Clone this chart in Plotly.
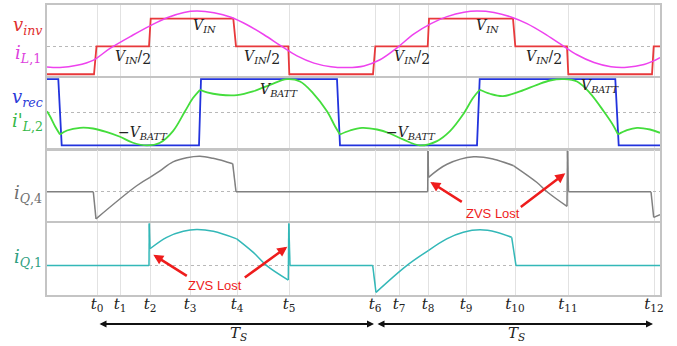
import plotly.graph_objects as go

# ---------------- data (time in arbitrary units, t0 = 0, Ts ~ 278) ----------------
t_names = ["0", "1", "2", "3", "4", "5", "6", "7", "8", "9", "10", "11", "12"]
t_vals = [0, 23, 53, 93, 140, 192, 278, 302, 331, 369, 418, 471, 557]

# panel 1: inverter voltage (units of V_IN/2) and L1 current
vinv_t = [-50, -3, -0.5, 52, 53.7, 136.3, 139, 191.3, 192.3, 276, 278.3, 330.7, 332, 416, 418.3, 470, 471.3, 555, 556.7, 563]
vinv_v = [0, 0, 1, 1, 2, 2, 1, 1, 0, 0, 1, 1, 2, 2, 1, 1, 0, 0, 1, 1]

iL1_t = [-50, -37, -20, -4, 13, 36, 53, 70, 87, 100, 117, 134, 150, 167, 184, 200, 217, 234, 250, 267,
         283, 300, 317, 334, 350, 367, 380, 397, 414, 430, 447, 464, 480, 497, 514, 530, 547, 556, 563]
iL1_v = [0.26, 0.24, 0.32, 0.5, 0.93, 1.41, 1.74, 2.03, 2.22, 2.27, 2.21, 2.05, 1.78, 1.42, 1.02, 0.66, 0.40, 0.27, 0.24, 0.30,
         0.52, 0.95, 1.45, 1.82, 2.07, 2.23, 2.27, 2.22, 2.06, 1.82, 1.47, 1.07, 0.70, 0.42, 0.27, 0.25, 0.35, 0.47, 0.6]

# panel 2: rectifier voltage (units of V_BATT) and L2 current
vrec_t = [-50, -38.7, -35.3, 102, 104, 240, 243, 380, 382.7, 518.3, 521.7, 563]
vrec_v = [1, 1, -1, -1, 1, 1, -1, -1, 1, 1, -1, -1]

iL2_t = [-50, -47, -42, -37, -30, -17, -4, 10, 23, 36, 50, 63, 76, 88, 96, 103, 110, 123, 140, 156,
         173, 190, 203, 216, 230, 238, 243, 253, 265, 280, 293, 306, 323, 340, 353, 366, 376, 382.7, 393, 406,
         423, 440, 453, 467, 480, 493, 506.7, 516.7, 521, 530, 540, 553, 563]
iL2_v = [0.03, -0.12, -0.42, -0.67, -0.55, -0.47, -0.49, -0.6, -0.74, -0.92, -1.0, -0.92, -0.57, 0.03, 0.43, 0.68, 0.6, 0.53, 0.52, 0.63,
         0.83, 1.0, 0.93, 0.58, 0.03, -0.42, -0.67, -0.55, -0.47, -0.52, -0.64, -0.82, -1.0, -0.87, -0.57, -0.07, 0.43, 0.68, 0.56, 0.49,
         0.63, 0.83, 0.96, 1.0, 0.93, 0.58, 0.03, -0.42, -0.67, -0.54, -0.47, -0.52, -0.62]
iL2_corners = [-37, 103, 243, 382.7, 521]

# panel 3: switch Q4 current
iQ4_t = [-50, -3.7, -1, 39.7, 53, 63, 76, 89.7, 103, 116, 129.7, 135.7, 139, 330.7, 331, 331.5, 350, 376.7,
         396.7, 416.7, 440, 450, 470, 470.5, 471.5, 554, 556.7, 563]
iQ4_v = [0, 0, -0.91, 0.2, 0.48, 0.7, 1.0, 1.14, 1.19, 1.12, 1.0, 0.94, 0, 0, 1.37, 0.48, 0.92, 1.17,
         1.09, 0.87, 0.31, 0, -0.49, 1.37, 0, 0, -0.86, -0.77]
iQ4_corners = [-3.7, -1, 53, 135.7, 139, 330.7, 331, 331.5, 416.7, 470, 470.5, 471.5, 554, 556.7]

# panel 4: switch Q1 current
iQ1_t = [-50, 52, 52.3, 53, 69.7, 86.3, 99.7, 116.3, 139.7, 156.3, 169.7, 191.3, 191.8, 193, 275.7, 279,
         309.7, 331.3, 349.7, 366.3, 383, 399.7, 414.7, 419, 563]
iQ1_v = [0, 0, 1.4, 0.56, 0.94, 1.14, 1.2, 1.14, 0.89, 0.44, 0, -0.48, 1.4, 0, 0, -0.89,
         0, 0.5, 0.89, 1.11, 1.19, 1.11, 0.94, 0, 0]
iQ1_corners = [52, 52.3, 53, 139.7, 191.3, 191.8, 193, 275.7, 279, 331.3, 414.7, 419]


def split_at(ts, vs, corners):
    xs, ys = [], []
    n = len(ts)
    for i, (t, v) in enumerate(zip(ts, vs)):
        xs.append(t)
        ys.append(v)
        if t in corners and 0 < i < n - 1:
            xs += [None, t]
            ys += [None, v]
    return xs, ys


RED = "#e8393b"
MAG = "#ee42ee"
BLUE = "#2233dd"
GREEN = "#44dd3c"
GRAY = "#808080"
TEAL = "#33b8b8"

fig = go.Figure()
fig.add_trace(go.Scatter(x=vinv_t, y=vinv_v, mode="lines", line=dict(color=RED, width=1.8),
                         xaxis="x", yaxis="y", hoverinfo="skip"))
fig.add_trace(go.Scatter(x=iL1_t, y=iL1_v, mode="lines", line=dict(color=MAG, width=1.5, shape="spline"),
                         xaxis="x", yaxis="y", hoverinfo="skip"))
fig.add_trace(go.Scatter(x=vrec_t, y=vrec_v, mode="lines", line=dict(color=BLUE, width=1.8),
                         xaxis="x2", yaxis="y2", hoverinfo="skip"))
gx, gy = split_at(iL2_t, iL2_v, iL2_corners)
fig.add_trace(go.Scatter(x=gx, y=gy, mode="lines", line=dict(color=GREEN, width=1.8, shape="spline"),
                         connectgaps=False, xaxis="x2", yaxis="y2", hoverinfo="skip"))
qx, qy = split_at(iQ4_t, iQ4_v, iQ4_corners)
fig.add_trace(go.Scatter(x=qx, y=qy, mode="lines", line=dict(color=GRAY, width=1.5, shape="spline"),
                         connectgaps=False, xaxis="x3", yaxis="y3", hoverinfo="skip"))
px_, py_ = split_at(iQ1_t, iQ1_v, iQ1_corners)
fig.add_trace(go.Scatter(x=px_, y=py_, mode="lines", line=dict(color=TEAL, width=1.5, shape="spline"),
                         connectgaps=False, xaxis="x4", yaxis="y4", hoverinfo="skip"))

domains = [[0.7551, 1.0], [0.5045, 0.749], [0.2568, 0.5], [0.0, 0.249]]
yranges = [[-0.064, 2.489], [-1.10, 1.042], [-0.967, 1.4], [-0.977, 1.423]]
ygrid = [1, 0, 0, 0]

FRAME = "#c4c4c4"
layout = dict(width=677, height=346, margin=dict(l=47, r=17, t=3, b=51),
              paper_bgcolor="white", plot_bgcolor="white", showlegend=False)
tick_text = ["<i>t</i><sub>%s</sub>" % n for n in t_names]
for i in range(4):
    sfx = "" if i == 0 else str(i + 1)
    xa = dict(domain=[0, 1], range=[-50, 563], tickmode="array", tickvals=t_vals,
              showgrid=True, gridcolor="#e2e2e2", gridwidth=1, zeroline=False,
              showline=True, mirror=True, linecolor=FRAME, linewidth=1.5,
              anchor="y" + sfx, ticks="", showticklabels=(i == 3))
    if i > 0:
        xa["matches"] = "x"
    if i == 3:
        xa["ticktext"] = tick_text
        xa["tickfont"] = dict(family="DejaVu Serif", size=15, color="#222222")
        xa["ticklabelstandoff"] = -6
    ya = dict(domain=domains[i], range=yranges[i], tickmode="array", tickvals=[ygrid[i]],
              showgrid=True, griddash="dot", gridcolor="#b8b8b8", gridwidth=1, zeroline=False,
              showline=True, mirror=True, linecolor=FRAME, linewidth=1.5,
              showticklabels=False, ticks="", anchor="x" + sfx)
    layout["xaxis" + sfx] = xa
    layout["yaxis" + sfx] = ya
fig.update_layout(**layout)

SERIF = "DejaVu Serif"
ann = []

# left-hand signal labels
def side(text, py, color):
    ann.append(dict(text=text, xref="paper", yref="paper", x=-0.031, y=(295 - py) / 292,
                    xanchor="center", yanchor="middle", showarrow=False,
                    font=dict(family=SERIF, size=18, color=color)))

side("<i>v</i><sub><i>inv</i></sub>", 24, "#e0302f")
side("<i>i</i><sub><i>L</i>,1</sub>", 52, "#dd3fdd")
side("<i>v</i><sub><i>rec</i></sub>", 97, "#2a3ad8")
side("<i>i'</i><sub><i>L</i>,2</sub>", 121, "#36b848")
side("<i>i</i><sub><i>Q</i>,4</sub>", 193, "#6f6f6f")
side("<i>i</i><sub><i>Q</i>,1</sub>", 258, "#2e9e80")

# in-panel level labels
def lab(text, x, y, xr, yr):
    ann.append(dict(text=text, x=x, y=y, xref=xr, yref=yr, showarrow=False,
                    xanchor="center", yanchor="middle",
                    font=dict(family=SERIF, size=14, color="#222222")))

half = "<i>V</i><sub><i>IN</i></sub>/<sub><span style='font-size:14px'>2</span></sub>"
full = "<i>V</i><sub><i>IN</i></sub>"
for x in [36, 165, 315, 447]:
    lab(half, x, 0.6, "x", "y")
for x in [107, 390]:
    lab(full, x, 1.74, "x", "y")
lab("−<i>V</i><sub><i>BATT</i></sub>", 46, -0.63, "x2", "y2")
lab("<i>V</i><sub><i>BATT</i></sub>", 182, 0.66, "x2", "y2")
lab("−<i>V</i><sub><i>BATT</i></sub>", 314, -0.63, "x2", "y2")
lab("<i>V</i><sub><i>BATT</i></sub>", 503, 0.78, "x2", "y2")

# ZVS lost callouts
ZRED = "#ee1c1c"
def zvs_text(x, y, xr, yr):
    ann.append(dict(text="ZVS Lost", x=x, y=y, xref=xr, yref=yr, showarrow=False,
                    font=dict(family="Liberation Sans", size=13, color=ZRED)))

def zvs_arrow(x, y, xr, yr, ax, ay):
    ann.append(dict(text="", x=x, y=y, xref=xr, yref=yr, ax=ax, ay=ay, axref="pixel", ayref="pixel",
                    showarrow=True, arrowhead=2, arrowsize=0.8, arrowwidth=2.5, arrowcolor=ZRED))

zvs_text(118, -0.67, "x4", "y4")
zvs_arrow(56.3, 0.36, "x4", "y4", 35, 22)
zvs_arrow(190.3, 0.63, "x4", "y4", -44, 32)
zvs_text(395.7, -0.74, "x3", "y3")
zvs_arrow(333.3, 0.33, "x3", "y3", 33, 21)
zvs_arrow(468.3, 0.62, "x3", "y3", -46, 35)

# switching period arrows
for a, b in [(t_vals[0], t_vals[6]), (t_vals[6], t_vals[12])]:
    ann.append(dict(text="", x=b, y=-0.1, xref="x4", yref="paper", ax=a, ay=0, axref="x4", ayref="pixel",
                    showarrow=True, arrowside="end+start", arrowhead=2, startarrowhead=2,
                    arrowsize=0.7, startarrowsize=0.7, arrowwidth=2, arrowcolor="#111111",
                    standoff=1, startstandoff=1))
    ann.append(dict(text="<i>T</i><sub><i>S</i></sub>", x=(a + b) / 2 + 2, y=-0.132, xref="x4", yref="paper",
                    showarrow=False, xanchor="center", yanchor="middle",
                    font=dict(family=SERIF, size=15, color="#222222")))

fig.update_layout(annotations=ann)
fig.write_html("out.html", config={"displayModeBar": False},
               post_script="document.body.style.margin='0px';")
